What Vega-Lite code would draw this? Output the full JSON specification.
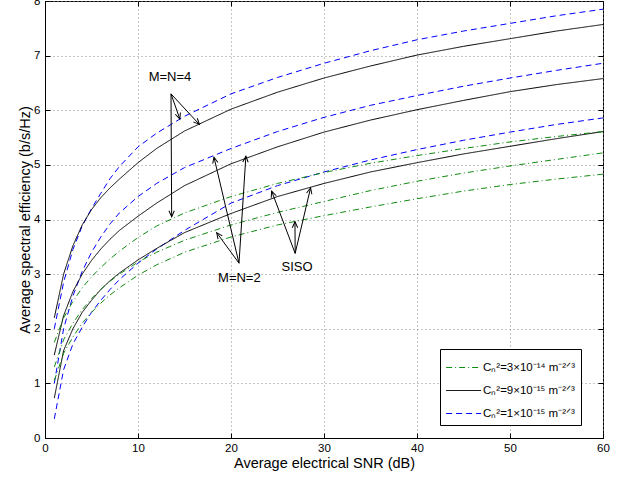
{
  "$schema": "https://vega.github.io/schema/vega-lite/v6.json",
  "width": 558,
  "height": 437,
  "autosize": {"type": "none"},
  "padding": {"left": 45, "top": 1, "right": 29, "bottom": 43},
  "background": "white",
  "config": {
    "view": {"stroke": "black", "strokeWidth": 1},
    "font": "Liberation Sans",
    "axis": {"labelFont": "Liberation Sans", "titleFont": "Liberation Sans", "labelColor": "black", "titleColor": "black", "domainColor": "black", "tickColor": "black", "titleFontWeight": "normal"}
  },
  "datasets": {
    "curves": [
      {"x":1,"y":2.0,"c":"1e-15","m":"4"},{"x":2,"y":2.85,"c":"1e-15","m":"4"},{"x":3,"y":3.45,"c":"1e-15","m":"4"},{"x":4,"y":3.88,"c":"1e-15","m":"4"},{"x":5,"y":4.2,"c":"1e-15","m":"4"},{"x":6,"y":4.48,"c":"1e-15","m":"4"},{"x":7,"y":4.75,"c":"1e-15","m":"4"},{"x":8,"y":4.97,"c":"1e-15","m":"4"},{"x":10,"y":5.33,"c":"1e-15","m":"4"},{"x":12,"y":5.58,"c":"1e-15","m":"4"},{"x":15,"y":5.89,"c":"1e-15","m":"4"},{"x":20,"y":6.3,"c":"1e-15","m":"4"},{"x":25,"y":6.6,"c":"1e-15","m":"4"},{"x":30,"y":6.86,"c":"1e-15","m":"4"},{"x":35,"y":7.09,"c":"1e-15","m":"4"},{"x":40,"y":7.29,"c":"1e-15","m":"4"},{"x":45,"y":7.45,"c":"1e-15","m":"4"},{"x":50,"y":7.59,"c":"1e-15","m":"4"},{"x":55,"y":7.73,"c":"1e-15","m":"4"},{"x":60,"y":7.85,"c":"1e-15","m":"4"},
      {"x":1,"y":2.2,"c":"9e-15","m":"4"},{"x":2,"y":3.0,"c":"9e-15","m":"4"},{"x":3,"y":3.52,"c":"9e-15","m":"4"},{"x":4,"y":3.9,"c":"9e-15","m":"4"},{"x":5,"y":4.18,"c":"9e-15","m":"4"},{"x":6,"y":4.4,"c":"9e-15","m":"4"},{"x":7,"y":4.58,"c":"9e-15","m":"4"},{"x":8,"y":4.74,"c":"9e-15","m":"4"},{"x":10,"y":5.04,"c":"9e-15","m":"4"},{"x":12,"y":5.3,"c":"9e-15","m":"4"},{"x":15,"y":5.62,"c":"9e-15","m":"4"},{"x":20,"y":6.02,"c":"9e-15","m":"4"},{"x":25,"y":6.33,"c":"9e-15","m":"4"},{"x":30,"y":6.59,"c":"9e-15","m":"4"},{"x":35,"y":6.81,"c":"9e-15","m":"4"},{"x":40,"y":7.01,"c":"9e-15","m":"4"},{"x":45,"y":7.17,"c":"9e-15","m":"4"},{"x":50,"y":7.31,"c":"9e-15","m":"4"},{"x":55,"y":7.45,"c":"9e-15","m":"4"},{"x":60,"y":7.57,"c":"9e-15","m":"4"},
      {"x":1,"y":1.0,"c":"1e-15","m":"2"},{"x":2,"y":2.0,"c":"1e-15","m":"2"},{"x":3,"y":2.6,"c":"1e-15","m":"2"},{"x":4,"y":3.05,"c":"1e-15","m":"2"},{"x":5,"y":3.4,"c":"1e-15","m":"2"},{"x":6,"y":3.68,"c":"1e-15","m":"2"},{"x":7,"y":3.92,"c":"1e-15","m":"2"},{"x":8,"y":4.12,"c":"1e-15","m":"2"},{"x":10,"y":4.42,"c":"1e-15","m":"2"},{"x":12,"y":4.66,"c":"1e-15","m":"2"},{"x":15,"y":4.95,"c":"1e-15","m":"2"},{"x":20,"y":5.3,"c":"1e-15","m":"2"},{"x":25,"y":5.61,"c":"1e-15","m":"2"},{"x":30,"y":5.87,"c":"1e-15","m":"2"},{"x":35,"y":6.09,"c":"1e-15","m":"2"},{"x":40,"y":6.27,"c":"1e-15","m":"2"},{"x":45,"y":6.44,"c":"1e-15","m":"2"},{"x":50,"y":6.59,"c":"1e-15","m":"2"},{"x":55,"y":6.73,"c":"1e-15","m":"2"},{"x":60,"y":6.86,"c":"1e-15","m":"2"},
      {"x":1,"y":1.52,"c":"9e-15","m":"2"},{"x":2,"y":2.24,"c":"9e-15","m":"2"},{"x":3,"y":2.68,"c":"9e-15","m":"2"},{"x":4,"y":3.0,"c":"9e-15","m":"2"},{"x":5,"y":3.25,"c":"9e-15","m":"2"},{"x":6,"y":3.46,"c":"9e-15","m":"2"},{"x":7,"y":3.64,"c":"9e-15","m":"2"},{"x":8,"y":3.8,"c":"9e-15","m":"2"},{"x":10,"y":4.06,"c":"9e-15","m":"2"},{"x":12,"y":4.3,"c":"9e-15","m":"2"},{"x":15,"y":4.62,"c":"9e-15","m":"2"},{"x":20,"y":5.02,"c":"9e-15","m":"2"},{"x":25,"y":5.33,"c":"9e-15","m":"2"},{"x":30,"y":5.6,"c":"9e-15","m":"2"},{"x":35,"y":5.82,"c":"9e-15","m":"2"},{"x":40,"y":6.01,"c":"9e-15","m":"2"},{"x":45,"y":6.18,"c":"9e-15","m":"2"},{"x":50,"y":6.34,"c":"9e-15","m":"2"},{"x":55,"y":6.47,"c":"9e-15","m":"2"},{"x":60,"y":6.58,"c":"9e-15","m":"2"},
      {"x":1,"y":0.35,"c":"1e-15","m":"1"},{"x":2,"y":1.25,"c":"1e-15","m":"1"},{"x":3,"y":1.72,"c":"1e-15","m":"1"},{"x":4,"y":2.03,"c":"1e-15","m":"1"},{"x":5,"y":2.3,"c":"1e-15","m":"1"},{"x":6,"y":2.52,"c":"1e-15","m":"1"},{"x":7,"y":2.72,"c":"1e-15","m":"1"},{"x":8,"y":2.9,"c":"1e-15","m":"1"},{"x":10,"y":3.2,"c":"1e-15","m":"1"},{"x":12,"y":3.46,"c":"1e-15","m":"1"},{"x":15,"y":3.8,"c":"1e-15","m":"1"},{"x":20,"y":4.3,"c":"1e-15","m":"1"},{"x":25,"y":4.62,"c":"1e-15","m":"1"},{"x":30,"y":4.87,"c":"1e-15","m":"1"},{"x":35,"y":5.09,"c":"1e-15","m":"1"},{"x":40,"y":5.28,"c":"1e-15","m":"1"},{"x":45,"y":5.45,"c":"1e-15","m":"1"},{"x":50,"y":5.6,"c":"1e-15","m":"1"},{"x":55,"y":5.74,"c":"1e-15","m":"1"},{"x":60,"y":5.86,"c":"1e-15","m":"1"},
      {"x":1,"y":0.73,"c":"9e-15","m":"1"},{"x":2,"y":1.6,"c":"9e-15","m":"1"},{"x":3,"y":2.0,"c":"9e-15","m":"1"},{"x":4,"y":2.3,"c":"9e-15","m":"1"},{"x":5,"y":2.52,"c":"9e-15","m":"1"},{"x":6,"y":2.72,"c":"9e-15","m":"1"},{"x":7,"y":2.88,"c":"9e-15","m":"1"},{"x":8,"y":3.02,"c":"9e-15","m":"1"},{"x":10,"y":3.26,"c":"9e-15","m":"1"},{"x":12,"y":3.47,"c":"9e-15","m":"1"},{"x":15,"y":3.76,"c":"9e-15","m":"1"},{"x":20,"y":4.11,"c":"9e-15","m":"1"},{"x":25,"y":4.42,"c":"9e-15","m":"1"},{"x":30,"y":4.66,"c":"9e-15","m":"1"},{"x":35,"y":4.87,"c":"9e-15","m":"1"},{"x":40,"y":5.04,"c":"9e-15","m":"1"},{"x":45,"y":5.2,"c":"9e-15","m":"1"},{"x":50,"y":5.34,"c":"9e-15","m":"1"},{"x":55,"y":5.48,"c":"9e-15","m":"1"},{"x":60,"y":5.61,"c":"9e-15","m":"1"},
      {"x":1,"y":1.75,"c":"3e-14","m":"4"},{"x":2,"y":2.2,"c":"3e-14","m":"4"},{"x":3,"y":2.5,"c":"3e-14","m":"4"},{"x":4,"y":2.75,"c":"3e-14","m":"4"},{"x":5,"y":2.95,"c":"3e-14","m":"4"},{"x":6,"y":3.12,"c":"3e-14","m":"4"},{"x":7,"y":3.28,"c":"3e-14","m":"4"},{"x":8,"y":3.42,"c":"3e-14","m":"4"},{"x":10,"y":3.67,"c":"3e-14","m":"4"},{"x":12,"y":3.88,"c":"3e-14","m":"4"},{"x":15,"y":4.12,"c":"3e-14","m":"4"},{"x":20,"y":4.42,"c":"3e-14","m":"4"},{"x":25,"y":4.66,"c":"3e-14","m":"4"},{"x":30,"y":4.86,"c":"3e-14","m":"4"},{"x":35,"y":5.03,"c":"3e-14","m":"4"},{"x":40,"y":5.17,"c":"3e-14","m":"4"},{"x":45,"y":5.3,"c":"3e-14","m":"4"},{"x":50,"y":5.42,"c":"3e-14","m":"4"},{"x":55,"y":5.52,"c":"3e-14","m":"4"},{"x":60,"y":5.61,"c":"3e-14","m":"4"},
      {"x":1,"y":1.3,"c":"3e-14","m":"2"},{"x":2,"y":1.8,"c":"3e-14","m":"2"},{"x":3,"y":2.1,"c":"3e-14","m":"2"},{"x":4,"y":2.35,"c":"3e-14","m":"2"},{"x":5,"y":2.55,"c":"3e-14","m":"2"},{"x":6,"y":2.72,"c":"3e-14","m":"2"},{"x":7,"y":2.87,"c":"3e-14","m":"2"},{"x":8,"y":3.0,"c":"3e-14","m":"2"},{"x":10,"y":3.22,"c":"3e-14","m":"2"},{"x":12,"y":3.4,"c":"3e-14","m":"2"},{"x":15,"y":3.62,"c":"3e-14","m":"2"},{"x":20,"y":3.9,"c":"3e-14","m":"2"},{"x":25,"y":4.13,"c":"3e-14","m":"2"},{"x":30,"y":4.33,"c":"3e-14","m":"2"},{"x":35,"y":4.53,"c":"3e-14","m":"2"},{"x":40,"y":4.7,"c":"3e-14","m":"2"},{"x":45,"y":4.85,"c":"3e-14","m":"2"},{"x":50,"y":4.98,"c":"3e-14","m":"2"},{"x":55,"y":5.1,"c":"3e-14","m":"2"},{"x":60,"y":5.22,"c":"3e-14","m":"2"},
      {"x":1,"y":1.05,"c":"3e-14","m":"1"},{"x":2,"y":1.55,"c":"3e-14","m":"1"},{"x":3,"y":1.85,"c":"3e-14","m":"1"},{"x":4,"y":2.1,"c":"3e-14","m":"1"},{"x":5,"y":2.3,"c":"3e-14","m":"1"},{"x":6,"y":2.47,"c":"3e-14","m":"1"},{"x":7,"y":2.62,"c":"3e-14","m":"1"},{"x":8,"y":2.75,"c":"3e-14","m":"1"},{"x":10,"y":2.98,"c":"3e-14","m":"1"},{"x":12,"y":3.17,"c":"3e-14","m":"1"},{"x":15,"y":3.4,"c":"3e-14","m":"1"},{"x":20,"y":3.68,"c":"3e-14","m":"1"},{"x":25,"y":3.9,"c":"3e-14","m":"1"},{"x":30,"y":4.07,"c":"3e-14","m":"1"},{"x":35,"y":4.23,"c":"3e-14","m":"1"},{"x":40,"y":4.38,"c":"3e-14","m":"1"},{"x":45,"y":4.52,"c":"3e-14","m":"1"},{"x":50,"y":4.64,"c":"3e-14","m":"1"},{"x":55,"y":4.74,"c":"3e-14","m":"1"},{"x":60,"y":4.83,"c":"3e-14","m":"1"}
    ],
    "arrows": [
      {"x0":13.55,"y0":6.3,"x1":14.5,"y1":5.84},
      {"x0":13.55,"y0":6.3,"x1":16.6,"y1":5.74},
      {"x0":13.55,"y0":6.3,"x1":13.62,"y1":4.05},
      {"x0":20.86,"y0":3.2,"x1":18.17,"y1":5.14},
      {"x0":20.86,"y0":3.2,"x1":21.6,"y1":5.16},
      {"x0":20.86,"y0":3.2,"x1":18.46,"y1":3.76},
      {"x0":26.9,"y0":3.38,"x1":24.37,"y1":4.52},
      {"x0":26.9,"y0":3.38,"x1":28.56,"y1":4.58},
      {"x0":26.9,"y0":3.38,"x1":26.88,"y1":3.96}
    ],
    "notes": [
      {"t":"M=N=4","x":13.44,"y":6.6},
      {"t":"M=N=2","x":20.9,"y":2.93},
      {"t":"SISO","x":27.1,"y":3.13}
    ]
  },
  "layer": [
    {
      "data": {"name": "curves"},
      "mark": {"type": "line", "strokeWidth": 1, "clip": true},
      "encoding": {
        "x": {"field": "x", "type": "quantitative", "scale": {"domain": [0, 60], "nice": false},
          "axis": {"orient": "bottom", "values": [0,10,20,30,40,50,60], "title": "Average electrical SNR (dB)", "grid": true, "gridDash": [1,3], "gridColor": "#8c8c8c", "gridOpacity": 1, "tickSize": -5, "labelFontSize": 11.5, "titleFontSize": 14.5, "labelPadding": 9, "titlePadding": 3, "labelFlush": false}},
        "y": {"field": "y", "type": "quantitative", "scale": {"domain": [0, 8], "nice": false},
          "axis": {"orient": "left", "values": [0,1,2,3,4,5,6,7,8], "title": "Average spectral efficiency (b/s/Hz)", "grid": true, "gridDash": [1,3], "gridColor": "#8c8c8c", "gridOpacity": 1, "tickSize": -5, "labelFontSize": 11.5, "titleFontSize": 14.5, "labelPadding": 10, "titlePadding": 1, "labelFlush": false}},
        "color": {"field": "c", "type": "nominal",
          "scale": {"domain": ["3e-14", "9e-15", "1e-15"], "range": ["#118a11", "#000000", "#0000ff"]},
          "legend": {"title": null, "orient": "none", "legendX": 395, "legendY": 348, "symbolType": "M-1.03,0L1.89,0", "symbolSize": 576, "symbolStrokeWidth": 1, "labelFont": "Liberation Sans", "labelFontSize": 11.5, "labelColor": "black", "labelOffset": 12, "padding": 6, "rowPadding": 5, "strokeColor": "black", "fillColor": "white",
            "labelExpr": "datum.value == '3e-14' ? 'Cₙ²=3×10⁻¹⁴ m⁻²ᐟ³' : datum.value == '9e-15' ? 'Cₙ²=9×10⁻¹⁵ m⁻²ᐟ³' : 'Cₙ²=1×10⁻¹⁵ m⁻²ᐟ³'"}},
        "strokeDash": {"field": "c", "type": "nominal",
          "scale": {"domain": ["3e-14", "9e-15", "1e-15"], "range": [[6,3,1,3], [1,0], [6,4]]},
          "legend": {"title": null, "orient": "none", "legendX": 395, "legendY": 348, "symbolType": "M-1.03,0L1.89,0", "symbolSize": 576, "symbolStrokeWidth": 1, "labelFont": "Liberation Sans", "labelFontSize": 11.5, "labelColor": "black", "labelOffset": 12, "padding": 6, "rowPadding": 5, "strokeColor": "black", "fillColor": "white",
            "labelExpr": "datum.value == '3e-14' ? 'Cₙ²=3×10⁻¹⁴ m⁻²ᐟ³' : datum.value == '9e-15' ? 'Cₙ²=9×10⁻¹⁵ m⁻²ᐟ³' : 'Cₙ²=1×10⁻¹⁵ m⁻²ᐟ³'"}},
        "detail": {"field": "m", "type": "nominal"}
      }
    },
    {
      "data": {"name": "curves"},
      "mark": {"type": "point", "opacity": 0},
      "encoding": {
        "x": {"field": "x", "type": "quantitative", "scale": {"domain": [0, 60], "nice": false},
          "axis": {"orient": "top", "values": [0,10,20,30,40,50,60], "labels": false, "title": null, "grid": false, "domain": false, "tickSize": -5}},
        "y": {"field": "y", "type": "quantitative", "scale": {"domain": [0, 8], "nice": false},
          "axis": {"orient": "right", "values": [0,1,2,3,4,5,6,7,8], "labels": false, "title": null, "grid": false, "domain": false, "tickSize": -5}}
      }
    },
    {
      "data": {"name": "arrows"},
      "mark": {"type": "rule", "color": "black", "strokeWidth": 1},
      "encoding": {
        "x": {"field": "x0", "type": "quantitative", "scale": {"domain": [0, 60], "nice": false}, "axis": null},
        "y": {"field": "y0", "type": "quantitative", "scale": {"domain": [0, 8], "nice": false}, "axis": null},
        "x2": {"field": "x1"},
        "y2": {"field": "y1"}
      }
    },
    {
      "data": {"name": "arrows"},
      "transform": [{"calculate": "atan2((datum.x1 - datum.x0) * 9.3, (datum.y1 - datum.y0) * 54.625) * 180 / PI", "as": "ang"}],
      "mark": {"type": "point", "shape": "M-0.45,1L0,0L0.45,1", "size": 144, "filled": false, "stroke": "black", "strokeWidth": 1, "opacity": 1},
      "encoding": {
        "x": {"field": "x1", "type": "quantitative", "scale": {"domain": [0, 60], "nice": false}, "axis": null},
        "y": {"field": "y1", "type": "quantitative", "scale": {"domain": [0, 8], "nice": false}, "axis": null},
        "angle": {"field": "ang", "type": "quantitative", "scale": null}
      }
    },
    {
      "data": {"name": "notes"},
      "mark": {"type": "text", "fontSize": 13, "font": "Liberation Sans", "color": "black"},
      "encoding": {
        "x": {"field": "x", "type": "quantitative", "scale": {"domain": [0, 60], "nice": false}, "axis": null},
        "y": {"field": "y", "type": "quantitative", "scale": {"domain": [0, 8], "nice": false}, "axis": null},
        "text": {"field": "t"}
      }
    }
  ],
  "resolve": {"axis": {"x": "independent", "y": "independent"}}
}
